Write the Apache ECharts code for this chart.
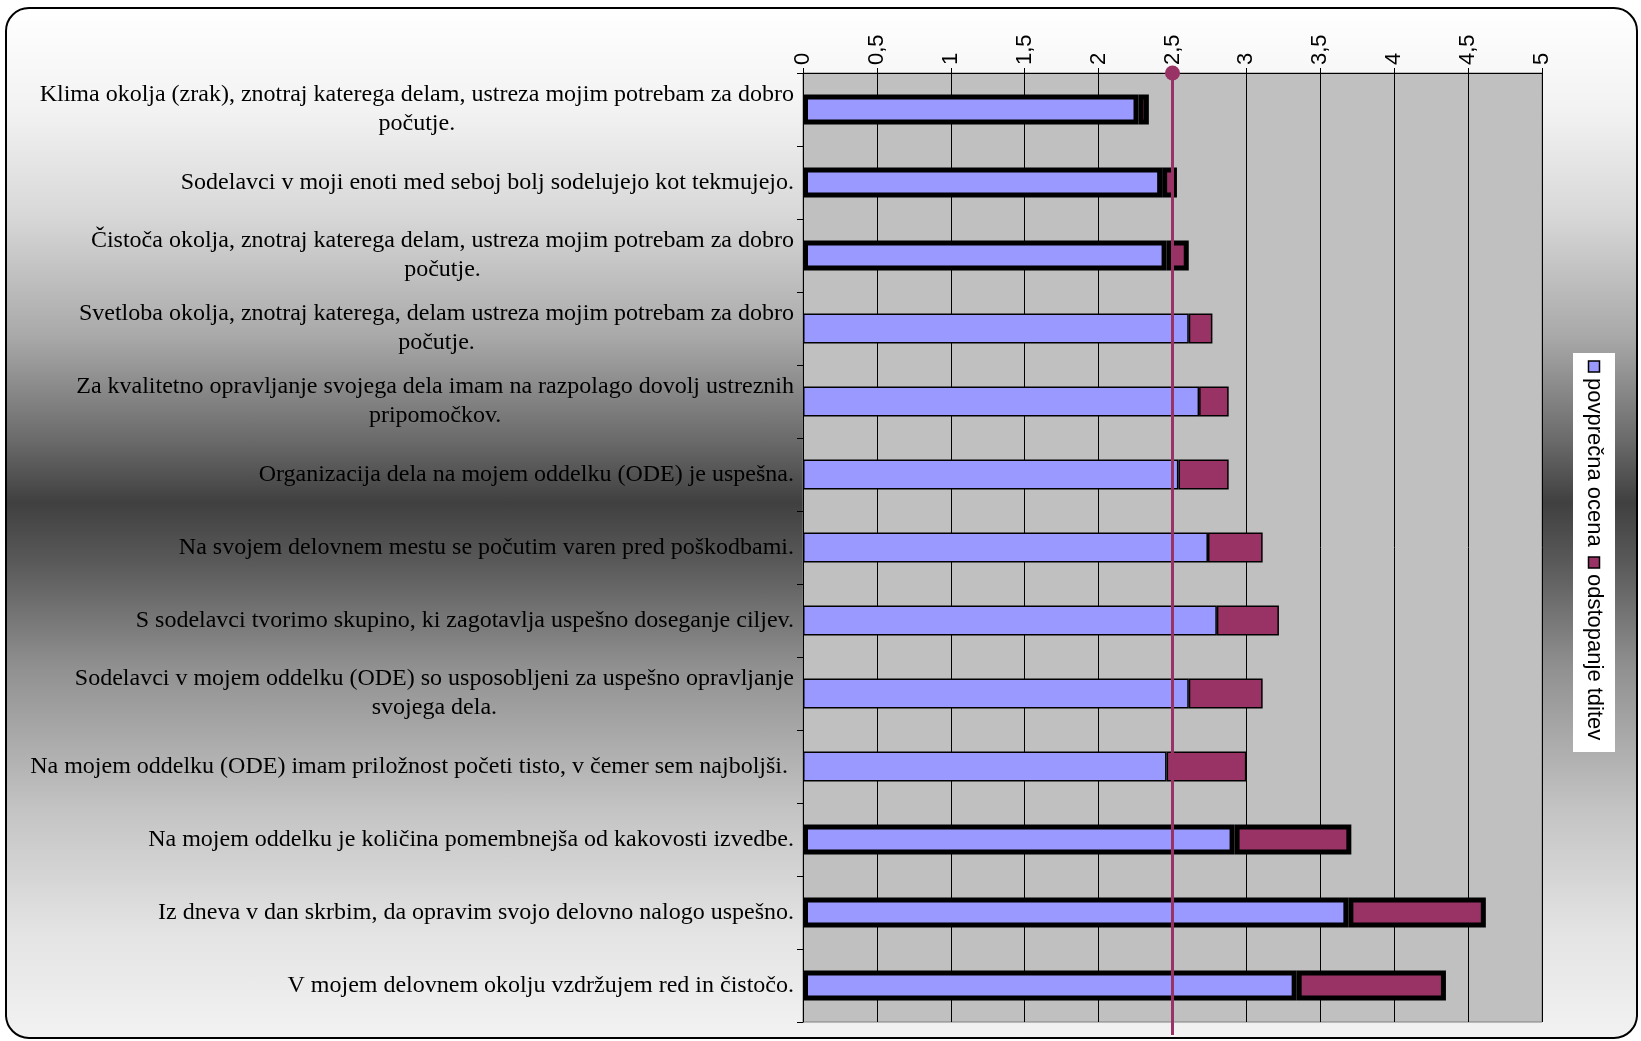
<!DOCTYPE html>
<html>
<head>
<meta charset="utf-8">
<script src="https://cdn.jsdelivr.net/npm/echarts@6/dist/echarts.min.js"></script>
<style>
  html, body { margin: 0; padding: 0; width: 1641px; height: 1041px; background: #fff; overflow: hidden; }
  #frame {
    position: absolute; left: 5px; top: 7px; width: 1629px; height: 1028px;
    border: 2px solid #000; border-radius: 24px;
    background: linear-gradient(to bottom, #ffffff 0%, #f2f2f2 10%, #d8d8d8 20%, #a8a8a8 32%, #6a6a6a 42%, #404040 48%, #5a5a5a 54%, #909090 64%, #c4c4c4 78%, #e4e4e4 90%, #f2f2f2 100%);
  }
  #main { position: absolute; left: 0; top: 0; width: 1641px; height: 1041px; }
</style>
</head>
<body>
<div id="frame"></div>
<div id="main"></div>
<script>
// trditve (kategorije), od zgoraj navzdol
var categories = [
  'Klima okolja (zrak), znotraj katerega delam, ustreza mojim potrebam za dobro\npočutje.',
  'Sodelavci v moji enoti med seboj bolj sodelujejo kot tekmujejo.',
  'Čistoča okolja, znotraj katerega delam, ustreza mojim potrebam za dobro\npočutje.',
  'Svetloba okolja, znotraj katerega, delam ustreza mojim potrebam za dobro\npočutje.',
  'Za kvalitetno opravljanje svojega dela imam na razpolago dovolj ustreznih\npripomočkov.',
  'Organizacija dela na mojem oddelku (ODE) je uspešna.',
  'Na svojem delovnem mestu se počutim varen pred poškodbami.',
  'S sodelavci tvorimo skupino, ki zagotavlja uspešno doseganje ciljev.',
  'Sodelavci v mojem oddelku (ODE) so usposobljeni za uspešno opravljanje\nsvojega dela.',
  'Na mojem oddelku (ODE) imam priložnost početi tisto, v čemer sem najboljši. ',
  'Na mojem oddelku je količina pomembnejša od kakovosti izvedbe.',
  'Iz dneva v dan skrbim, da opravim svojo delovno nalogo uspešno.',
  'V mojem delovnem okolju vzdržujem red in čistočo.'
];
var seriesNames = ['povprečna ocena', 'odstopanje tditev'];
var avgScore = [2.27, 2.43, 2.46, 2.61, 2.68, 2.54, 2.74, 2.80, 2.61, 2.46, 2.92, 3.69, 3.34];
var deviation = [0.07, 0.10, 0.15, 0.16, 0.20, 0.34, 0.37, 0.42, 0.50, 0.54, 0.79, 0.93, 1.01];
// vrstice z debelim okvirjem
var boldRows = [0, 1, 2, 10, 11, 12];
var refValue = 2.5;

var colors = ['#9999ff', '#993366'];
var serif = '"Times New Roman", "Liberation Serif", serif';
var sans = 'Arial, "Liberation Sans", sans-serif';

function barData(vals) {
  return vals.map(function (v, i) {
    var bold = boldRows.indexOf(i) >= 0;
    return { value: v, itemStyle: { borderWidth: bold ? 5 : 1.5 } };
  });
}

var myChart = echarts.init(document.getElementById('main'));

// legenda (navpična, zasukana)
var legendItems = [
  { type: 'rect', shape: { x: 8, y: -5.5, width: 11, height: 11 }, style: { fill: colors[0], stroke: '#000', lineWidth: 1.5 } },
  { type: 'text', x: 25, y: 0, style: { text: seriesNames[0], font: '22px ' + sans, fill: '#000', verticalAlign: 'middle' } },
  { type: 'rect', shape: { x: 204, y: -5.5, width: 11, height: 11 }, style: { fill: colors[1], stroke: '#000', lineWidth: 1.5 } },
  { type: 'text', x: 221, y: 0, style: { text: seriesNames[1], font: '22px ' + sans, fill: '#000', verticalAlign: 'middle' } }
];

myChart.setOption({
  animation: false,
  backgroundColor: 'transparent',
  grid: {
    left: 803, top: 73, width: 739, height: 949,
    show: true, backgroundColor: '#c0c0c0', borderColor: '#808080', borderWidth: 1
  },
  xAxis: {
    type: 'value',
    position: 'top',
    min: 0, max: 5, interval: 0.5,
    axisLine: { show: true, lineStyle: { color: '#000', width: 1 } },
    axisTick: { show: true, length: 5, lineStyle: { color: '#000' } },
    axisLabel: {
      rotate: -90, margin: 8, color: '#000', fontFamily: sans, fontSize: 22,
      formatter: function (v) { return String(v).replace('.', ','); }
    },
    splitLine: { show: true, lineStyle: { color: '#000', width: 1 } }
  },
  yAxis: {
    type: 'category',
    inverse: true,
    data: categories,
    axisLine: { show: true, lineStyle: { color: '#000', width: 1 } },
    axisTick: { show: true, length: 6, lineStyle: { color: '#000' } },
    axisLabel: {
      interval: 0, margin: 9, color: '#000',
      formatter: function (v) {
        return v.split('\n').map(function (l) { return '{c|' + l + '}'; }).join('\n');
      },
      rich: { c: { align: 'center', fontFamily: serif, fontSize: 24, lineHeight: 29, color: '#000' } }
    },
    splitLine: { show: false }
  },
  series: [
    {
      name: seriesNames[0], type: 'bar', stack: 'total', barWidth: '41%',
      itemStyle: { color: colors[0], borderColor: '#000' },
      data: barData(avgScore)
    },
    {
      name: seriesNames[1], type: 'bar', stack: 'total', barWidth: '41%',
      itemStyle: { color: colors[1], borderColor: '#000' },
      data: barData(deviation)
    },
    {
      type: 'custom', silent: true, clip: false, z: 10,
      data: [[refValue, 0]],
      renderItem: function (params, api) {
        var x = api.coord([api.value(0), 0])[0];
        var cs = params.coordSys;
        return {
          type: 'group',
          children: [
            { type: 'line', shape: { x1: x, y1: cs.y, x2: x, y2: cs.y + cs.height + 13 },
              style: { stroke: colors[1], lineWidth: 3 } },
            { type: 'circle', shape: { cx: x, cy: cs.y, r: 7.5 }, style: { fill: colors[1] } }
          ]
        };
      }
    }
  ],
  graphic: [
    { type: 'rect', shape: { x: 1573, y: 353, width: 42, height: 399 }, style: { fill: '#fff' } },
    { type: 'group', x: 1594, y: 353, rotation: -Math.PI / 2, children: legendItems }
  ]
});
</script>
</body>
</html>
